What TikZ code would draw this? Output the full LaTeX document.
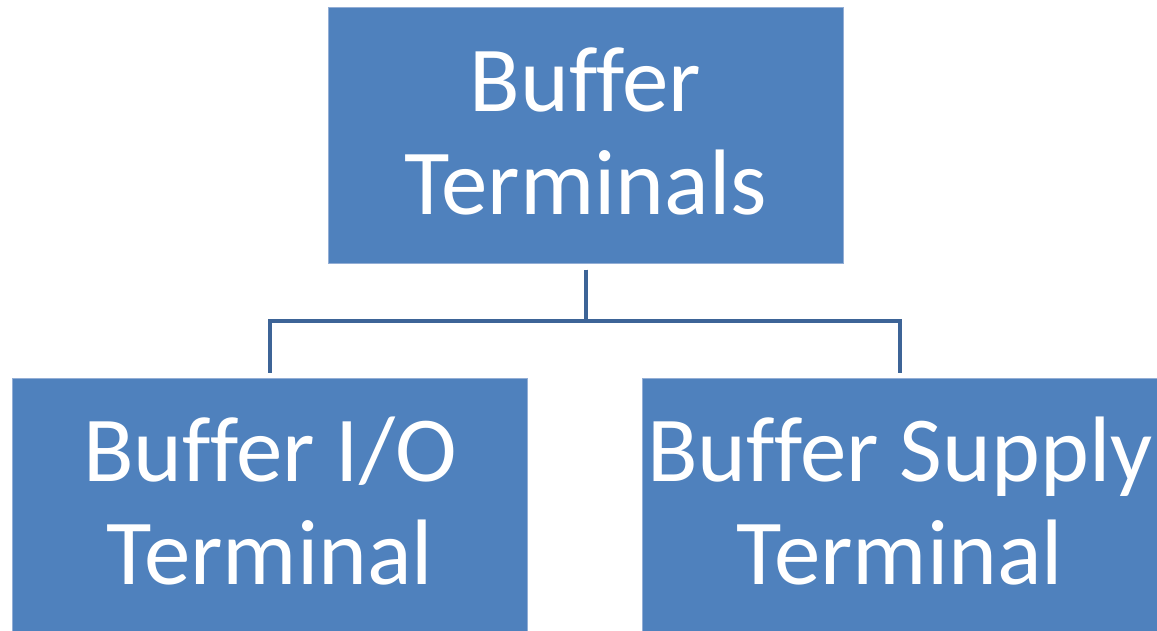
\documentclass[tikz,border=0pt]{standalone}
\usepackage{fontspec}
\setmainfont[Ligatures=NoCommon]{Carlito}
\definecolor{boxfill}{HTML}{4F81BD}
\definecolor{boxedge}{HTML}{93AED5}
\definecolor{linkcol}{HTML}{3D6497}
\begin{document}
\begin{tikzpicture}[x=0.5pt,y=-0.5pt,
  termbox/.style={rectangle, fill=boxfill, draw=boxedge, line width=0.5pt,
    minimum width=257.5pt, minimum height=127.5pt, inner sep=0pt},
  termtext/.style={inner sep=0pt, text=white, align=center, yshift=2pt,
    font=\fontsize{46.5}{51.5}\selectfont},
  link/.style={draw=linkcol, line width=2pt, line join=miter,
    shorten <=3pt, shorten >=2.5pt}]
  \useasboundingbox (0,0) rectangle (1157,631);
  \clip (0,0) rectangle (1157,631);
  % boxes
  \node[termbox] (top)   at (585.5,135.5) {};
  \node[termbox] (left)  at (270,505.5)   {};
  \node[termbox] (right) at (900,505.5)   {};
  % box captions
  \node[termtext] (top-text)   at (top.center)   {Buffer\\Terminals};
  \node[termtext] (left-text)  at (left.center)  {Buffer I/O\\Terminal};
  \node[termtext] (right-text) at (right.center) {Buffer Supply\\Terminal};
  % tree connectors
  \coordinate (bus) at (585.5,321);
  \draw[link] (top.south) -- (bus) -| (left.north);
  \draw[link] (top.south) -- (bus) -| (right.north);
\end{tikzpicture}
\end{document}
